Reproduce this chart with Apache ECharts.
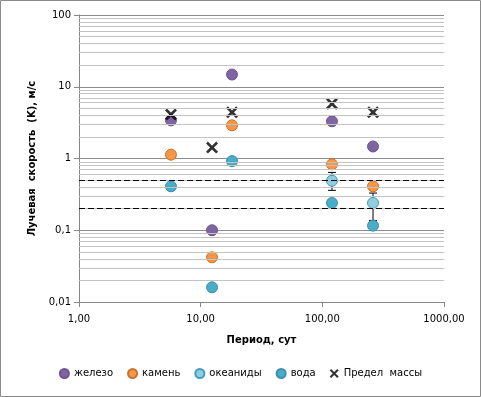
<!DOCTYPE html>
<html>
<head>
<meta charset="utf-8">
<script src="https://cdn.jsdelivr.net/npm/echarts@6/dist/echarts.min.js"></script>
<style>
  html, body { margin: 0; padding: 0; background: #fff; }
  #chart { width: 481px; height: 397px; }
</style>
</head>
<body>
<div id="chart"></div>
<script>
// periods, days
const periods = [5.7, 12.4, 18.1, 120, 261]

// radial velocity K, m/s
const iron = [[5.7, 3.4], [12.4, 0.1], [18.1, 14.8], [120, 3.3], [261, 1.47]]
const stone = [[5.7, 1.13], [12.4, 0.042], [18.1, 2.9], [120, 0.83], [261, 0.41]]
const oceanids = [[120, 0.49], [261, 0.24]]
const water = [[5.7, 0.41], [12.4, 0.016], [18.1, 0.92], [120, 0.24], [261, 0.116]]
const massLimit = [[5.7, 4.1], [12.4, 1.42], [18.1, 4.4], [120, 5.8], [261, 4.4]]

// error bars for oceanids: [period, low, high]
const oceanidErrors = [[120, 0.36, 0.64], [261, 0.137, 0.33]]

// dashed reference levels
const refLevels = [0.5, 0.2]

// minor log grid lines (2..9 per decade)
const minorGrid = []
for (let d = 0.01; d < 100; d *= 10) {
  for (let m = 2; m <= 9; m++) minorGrid.push(+(m * d).toPrecision(3))
}

const font = 'DejaVu Sans'
const crossPath = 'path://M0,1.6L1.6,0L5,3.4L8.4,0L10,1.6L6.6,5L10,8.4L8.4,10L5,6.6L1.6,10L0,8.4L3.4,5Z'

const dot = (name, data, fill, border) => ({
  name, type: 'scatter', data, symbol: 'circle', symbolSize: 11,
  itemStyle: { color: fill, borderColor: border, borderWidth: 1, opacity: 1 },
  z: 3
})

const chart = echarts.init(document.getElementById('chart'))

chart.setOption({
  animation: false,
  backgroundColor: '#fff',
  textStyle: { fontFamily: font },
  graphic: [{
    type: 'rect', shape: { x: 0.5, y: 0.5, width: 480, height: 396 },
    style: { fill: 'none', stroke: '#8a8a8a', lineWidth: 1 }, silent: true
  }],
  grid: { left: 79, right: 37, top: 15, bottom: 95 },
  legend: {
    bottom: 13, left: 'center', itemGap: 14, itemWidth: 9, itemHeight: 9,
    textStyle: { fontFamily: font, fontSize: 10, color: '#000' },
    data: [
      { name: 'железо', icon: 'circle' },
      { name: 'камень', icon: 'circle' },
      { name: 'океаниды', icon: 'circle' },
      { name: 'вода', icon: 'circle' },
      { name: 'Предел  массы' }
    ]
  },
  xAxis: {
    type: 'log', logBase: 10, min: 1, max: 1000,
    name: 'Период, сут', nameLocation: 'middle', nameGap: 33,
    nameTextStyle: { fontFamily: font, fontSize: 10, fontWeight: 'bold', color: '#000' },
    axisLine: { lineStyle: { color: '#868686' } },
    axisTick: { show: true, inside: false, length: 5, lineStyle: { color: '#868686' } },
    axisLabel: {
      fontFamily: font, fontSize: 10, color: '#000', margin: 12,
      formatter: v => v.toFixed(2).replace('.', ',')
    },
    splitLine: { show: false }
  },
  yAxis: {
    type: 'log', logBase: 10, min: 0.01, max: 100,
    name: 'Лучевая  скорость  (K), м/с', nameLocation: 'middle', nameGap: 41,
    nameTextStyle: { fontFamily: font, fontSize: 10, fontWeight: 'bold', color: '#000' },
    axisLine: { show: true, lineStyle: { color: '#868686' } },
    axisTick: { show: true, inside: false, length: 5, lineStyle: { color: '#868686' } },
    axisLabel: {
      fontFamily: font, fontSize: 10, color: '#000', margin: 8,
      formatter: v => String(+v.toPrecision(3)).replace('.', ',')
    },
    splitLine: { show: true, lineStyle: { color: '#8c8c8c', width: 1 } }
  },
  series: [
    {
      name: 'grid-minor', type: 'line', data: [], silent: true,
      markLine: {
        silent: true, symbol: 'none', label: { show: false },
        lineStyle: { color: '#c3c3c3', type: 'solid', width: 1 },
        data: minorGrid.map(v => ({ yAxis: v }))
      },
      z: 0
    },
    {
      name: 'ref', type: 'line', data: [], silent: true,
      markLine: {
        silent: true, symbol: 'none', label: { show: false },
        lineStyle: { color: '#000', type: [6, 3], width: 1 },
        data: refLevels.map(v => ({ yAxis: v }))
      },
      z: 1
    },
    {
      name: 'errors', type: 'custom', data: oceanidErrors, silent: true, z: 2,
      renderItem: (params, api) => {
        const lo = api.coord([api.value(0), api.value(1)])
        const hi = api.coord([api.value(0), api.value(2)])
        const w = 4
        const style = { stroke: '#000', lineWidth: 1 }
        return {
          type: 'group',
          children: [
            { type: 'line', shape: { x1: lo[0], y1: lo[1], x2: hi[0], y2: hi[1] }, style },
            { type: 'line', shape: { x1: lo[0] - w, y1: lo[1], x2: lo[0] + w, y2: lo[1] }, style },
            { type: 'line', shape: { x1: hi[0] - w, y1: hi[1], x2: hi[0] + w, y2: hi[1] }, style }
          ]
        }
      }
    },
    dot('железо', iron, '#8064a2', '#6d5590'),
    dot('камень', stone, '#f79646', '#c8742f'),
    dot('океаниды', oceanids, '#93cddd', '#3c9ec4'),
    dot('вода', water, '#4bacc6', '#3a8fb0'),
    {
      name: 'Предел  массы', type: 'scatter', data: massLimit,
      symbol: crossPath, symbolSize: 12,
      itemStyle: { color: '#000' }, z: 4
    }
  ]
})
</script>
</body>
</html>
